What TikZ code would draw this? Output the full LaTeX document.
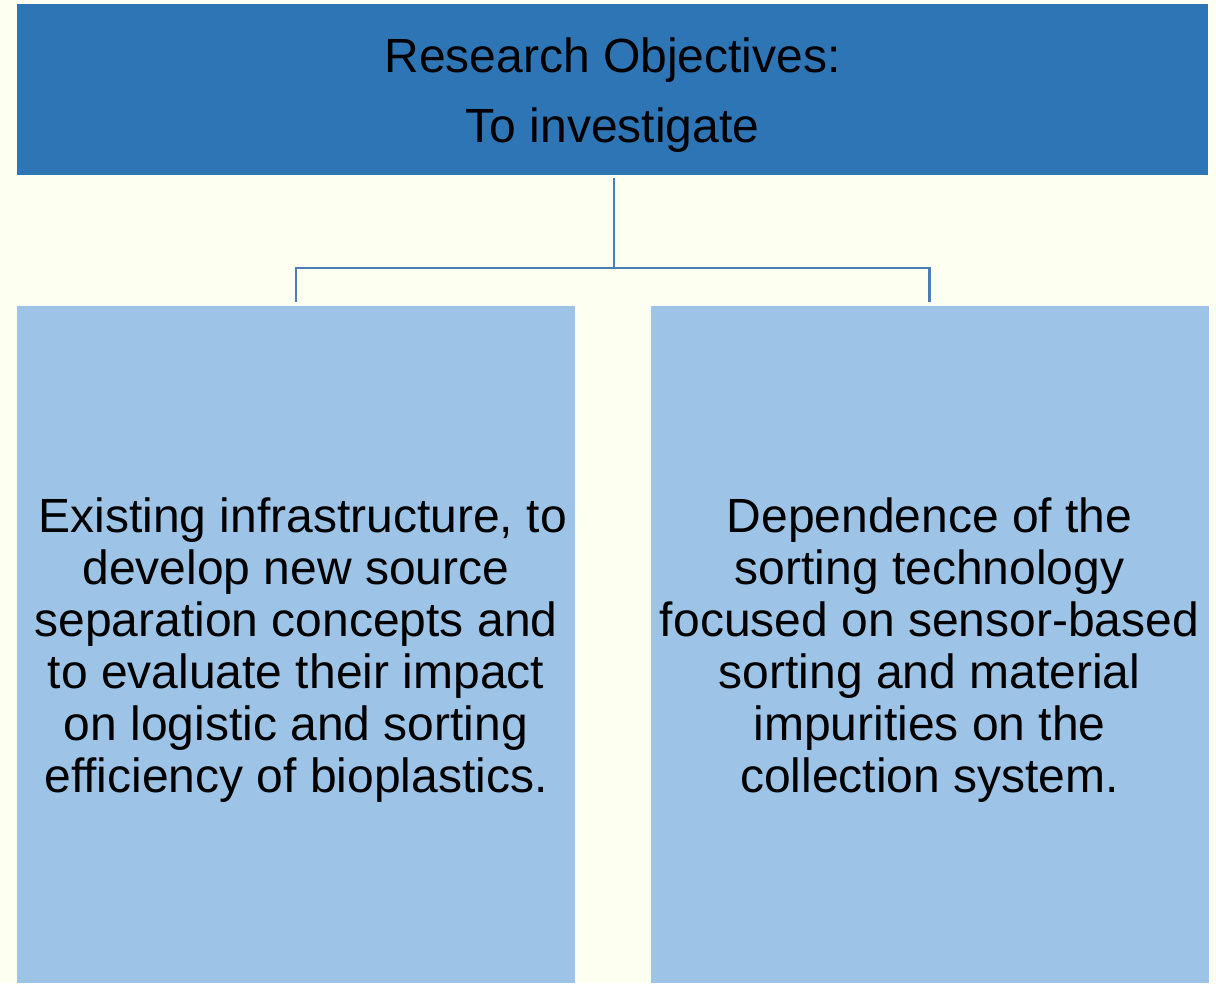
\documentclass[tikz,border=0pt]{standalone}
\usepackage{fontspec}
\setmainfont{Liberation Sans}
\usepackage{xcolor}
\usetikzlibrary{positioning}

\definecolor{paper}{HTML}{FDFFF1}
\definecolor{headblue}{HTML}{2E75B6}
\definecolor{cellblue}{HTML}{9DC3E6}
\definecolor{linkblue}{HTML}{4A7EB4}

% taller first line, pushes the text block down a little
\newcommand{\firststrut}{\rule{0pt}{45pt}}

\begin{document}
\begin{tikzpicture}[
  x=1pt, y=-1pt,
  every node/.style={font=\fontsize{48}{52}\selectfont, text=black},
  headblk/.style={rectangle, fill=headblue, inner sep=0pt,
                  minimum width=1191pt, minimum height=171pt,
                  align=center, font=\fontsize{48}{70}\selectfont},
  cellblk/.style={rectangle, fill=cellblue, inner sep=0pt,
                  minimum width=558pt, minimum height=677pt,
                  align=center},
  link/.style={draw=linkblue, line width=2.5pt, shorten <=3pt}
]
% page and margins
\fill[paper] (0,0) rectangle (1216,983);
\useasboundingbox (0,0) rectangle (1216,983);

\node[headblk] (objectives) at (612.5,89.5) {\firststrut Research Objectives:\\To investigate};
\node[cellblk] (infra)      at (296,644.5)
  {\firststrut\ Existing infrastructure, to\\develop new source\\separation concepts and\\to evaluate their impact\\on logistic and sorting\\efficiency of bioplastics.};
\node[cellblk] (sorting)    at (929.5,644.5)
  {\firststrut Dependence of the\\sorting technology\\focused on sensor-based\\sorting and material\\impurities on the\\collection system.};

% branching connector
\coordinate (fork) at (614,268);
\draw[link] (objectives.south -| fork) -- (fork);
\draw[link, shorten <=0pt, shorten >=4pt] (fork) -| (infra.north);
\draw[link, shorten <=0pt, shorten >=4pt] (fork) -| (sorting.north);
\end{tikzpicture}
\end{document}
